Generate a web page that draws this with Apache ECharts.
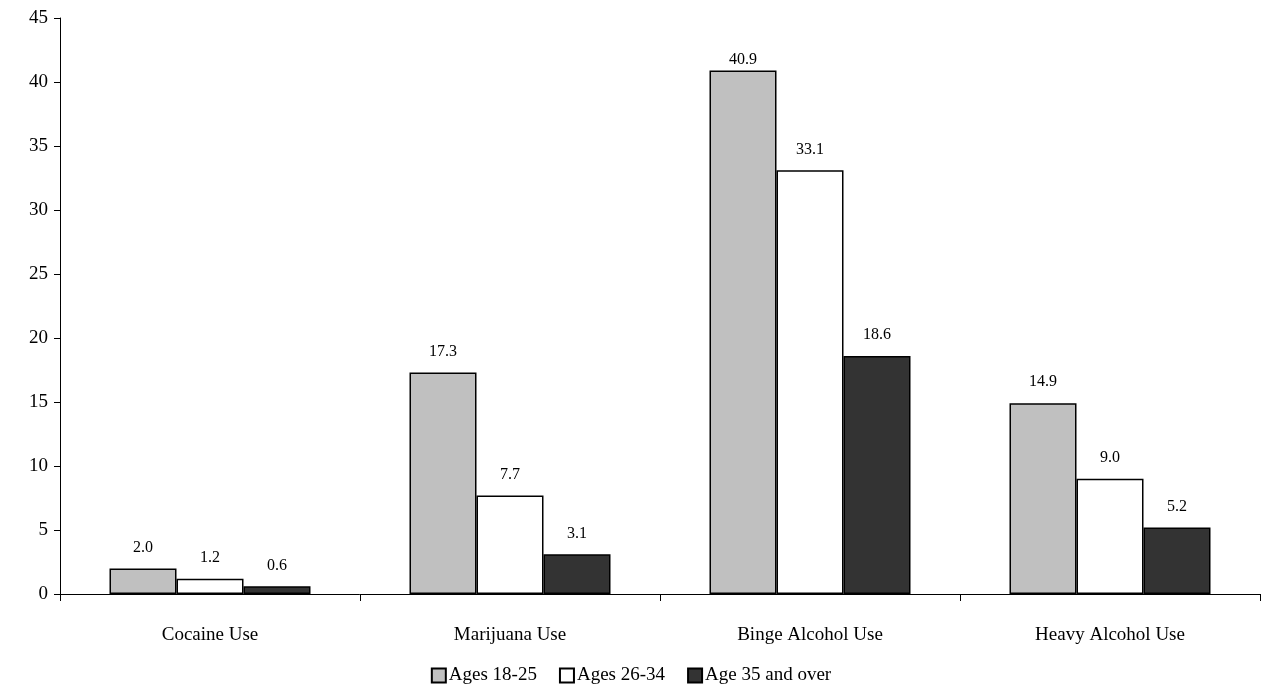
<!DOCTYPE html>
<html>
<head>
<meta charset="utf-8">
<script src="https://cdn.jsdelivr.net/npm/echarts@6/dist/echarts.min.js"></script>
<style>
  html, body { margin: 0; padding: 0; background: #fff; }
  #chart { width: 1262px; height: 694px; }
</style>
</head>
<body>
<div id="chart"></div>
<script>
var categories = ['Cocaine Use', 'Marijuana Use', 'Binge Alcohol Use', 'Heavy Alcohol Use'];
var ages18to25 = [2.0, 17.3, 40.9, 14.9];
var ages26to34 = [1.2, 7.7, 33.1, 9.0];
var ages35plus = [0.6, 3.1, 18.6, 5.2];

var font = 'Liberation Serif';
function barSeries(name, data, color) {
  return {
    name: name,
    type: 'bar',
    // tallest bar's label is squeezed against the top of the plot
    data: data.map(function (v) {
      return v > 40 ? { value: v, label: { distance: 3 } } : v;
    }),
    barGap: '0%',
    barCategoryGap: '33%',
    itemStyle: { color: color, borderColor: '#000', borderWidth: 1.5 },
    label: {
      show: true, position: 'top', distance: 13,
      fontFamily: font, fontSize: 16, color: '#000',
      formatter: function (p) { return p.value.toFixed(1); }
    }
  };
}

var chart = echarts.init(document.getElementById('chart'));
chart.setOption({
  animation: false,
  grid: { left: 60, right: 2, top: 18, bottom: 100 },
  legend: {
    bottom: 4, left: 'center',
    icon: 'rect',
    itemWidth: 14, itemHeight: 14, itemGap: 22,
    textStyle: { fontFamily: font, fontSize: 19, color: '#000', padding: [0, 0, 0, -2] },
    data: ['Ages 18-25', 'Ages 26-34', 'Age 35 and over']
  },
  xAxis: {
    type: 'category',
    data: categories,
    axisLine: { lineStyle: { color: '#000' } },
    axisTick: { show: true, alignWithLabel: false, length: 7, lineStyle: { color: '#000' } },
    axisLabel: { fontFamily: font, fontSize: 19, color: '#000', margin: 32 }
  },
  yAxis: {
    type: 'value',
    min: 0, max: 45, interval: 5,
    splitLine: { show: false },
    axisLine: { show: true, lineStyle: { color: '#000' } },
    axisTick: { show: true, length: 6, lineStyle: { color: '#000' } },
    axisLabel: { fontFamily: font, fontSize: 19, color: '#000', margin: 12 }
  },
  series: [
    barSeries('Ages 18-25', ages18to25, '#c0c0c0'),
    barSeries('Ages 26-34', ages26to34, '#ffffff'),
    barSeries('Age 35 and over', ages35plus, '#333333')
  ]
});
</script>
</body>
</html>
